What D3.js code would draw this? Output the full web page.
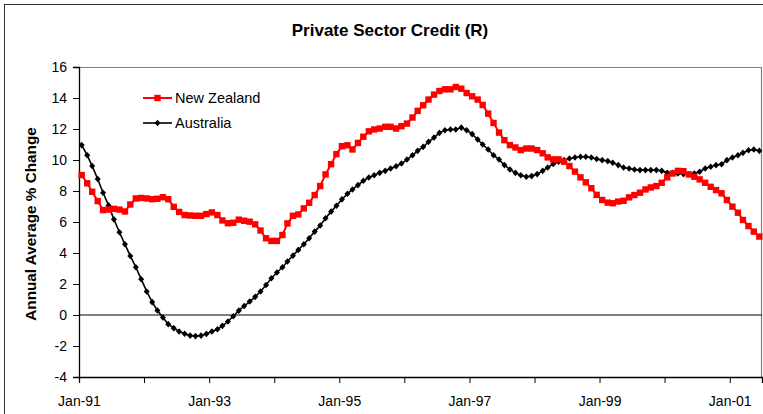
<!DOCTYPE html>
<html>
<head>
<meta charset="utf-8">
<script src="https://d3js.org/d3.v7.min.js"></script>
<style>
  body { margin: 0; background: #fff; }
  svg { display: block; font-family: "Liberation Sans", Arial, sans-serif; }
</style>
</head>
<body>
<script>
// Monthly series, Jan-91 .. Jun-01
const startYear = 1991;
const nzValues = [
  9.03, 8.5, 7.95, 7.35, 6.77, 6.8, 6.85, 6.8, 6.68, 7.13,
  7.52, 7.55, 7.52, 7.47, 7.5, 7.6, 7.47, 6.98, 6.65, 6.45,
  6.42, 6.4, 6.4, 6.51, 6.62, 6.45, 6.1, 5.92, 5.95, 6.15,
  6.08, 6.02, 5.85, 5.45, 4.95, 4.78, 4.78, 5.16, 5.91, 6.4,
  6.49, 6.88, 7.24, 7.74, 8.32, 9.07, 9.73, 10.38, 10.89, 10.95,
  10.68, 11.1, 11.5, 11.85, 11.97, 12.03, 12.14, 12.14, 12.03, 12.18,
  12.35, 12.74, 13.17, 13.53, 13.9, 14.22, 14.45, 14.56, 14.56, 14.71,
  14.6, 14.32, 14.11, 13.9, 13.55, 12.99, 12.39, 11.77, 11.28, 10.96,
  10.81, 10.64, 10.74, 10.74, 10.64, 10.43, 10.17, 10.04, 10.04, 9.89,
  9.61, 9.25, 8.88, 8.56, 8.18, 7.75, 7.42, 7.25, 7.21, 7.32,
  7.37, 7.59, 7.74, 7.89, 8.1, 8.23, 8.32, 8.53, 8.88, 9.13,
  9.3, 9.28, 9.07, 8.92, 8.75, 8.53, 8.27, 8.06, 7.85, 7.42,
  6.99, 6.6, 6.13, 5.74, 5.38, 5.06
];
const ausValues = [
  10.96, 10.31, 9.61, 8.77, 7.89, 7.07, 6.17, 5.34, 4.56, 3.81,
  3.08, 2.31, 1.52, 0.83, 0.29, -0.16, -0.59, -0.85, -1.06, -1.21,
  -1.33, -1.36, -1.33, -1.22, -1.06, -0.92, -0.7, -0.42, -0.08, 0.28,
  0.58, 0.87, 1.17, 1.52, 1.94, 2.37, 2.74, 3.08, 3.45, 3.83,
  4.2, 4.56, 4.95, 5.38, 5.77, 6.24, 6.67, 7.05, 7.46, 7.82,
  8.1, 8.38, 8.66, 8.87, 9.02, 9.17, 9.3, 9.45, 9.6, 9.77,
  10.03, 10.31, 10.59, 10.85, 11.17, 11.45, 11.75, 11.92, 11.97, 11.97,
  12.09, 11.92, 11.67, 11.32, 11.0, 10.68, 10.31, 10.03, 9.67, 9.39,
  9.17, 9.02, 8.92, 8.96, 9.09, 9.3, 9.52, 9.74, 9.89, 9.99,
  10.1, 10.16, 10.21, 10.21, 10.16, 10.06, 9.99, 9.93, 9.82, 9.67,
  9.52, 9.45, 9.39, 9.35, 9.35, 9.35, 9.35, 9.3, 9.17, 9.17,
  9.13, 9.09, 9.09, 9.13, 9.24, 9.45, 9.56, 9.67, 9.73, 9.99,
  10.16, 10.31, 10.46, 10.63, 10.68, 10.59
];
const yTicks = [-4, -2, 0, 2, 4, 6, 8, 10, 12, 14, 16];
const seriesNames = ["New Zealand", "Australia"];

const W = 763, H = 414;
const plot = { left: 79, right: 762, top: 67, bottom: 377 };

const svg = d3.select("body").append("svg")
  .attr("width", W)
  .attr("height", H);

// outer chart frame
svg.append("rect")
  .attr("x", 4.5).attr("y", 4.5)
  .attr("width", W + 10).attr("height", H + 10)
  .attr("fill", "#fff")
  .attr("stroke", "#333")
  .attr("stroke-width", 1);

// scales
const x = d3.scaleTime()
  .domain([new Date(startYear, 0, 1), new Date(2001, 6, 1)])
  .range([plot.left, plot.right]);

const y = d3.scaleLinear()
  .domain([-4, 16])
  .range([plot.bottom, plot.top]);

const monthMid = i => new Date(startYear, i, 16);

// plot area border (top/right grey)
svg.append("path")
  .attr("d", `M${plot.left},${plot.top + 0.5}H${plot.right - 0.5}V${plot.bottom}`)
  .attr("fill", "none")
  .attr("stroke", "#808080")
  .attr("stroke-width", 1.2);

// zero line
svg.append("line")
  .attr("x1", plot.left).attr("x2", plot.right)
  .attr("y1", y(0)).attr("y2", y(0))
  .attr("stroke", "#000")
  .attr("stroke-width", 1);

// axes
const fmt = d3.timeFormat("Jan-%y");
const xAxis = d3.axisBottom(x)
  .tickValues(d3.timeYear.range(new Date(startYear, 0, 1), new Date(2001, 6, 1)))
  .tickSize(6)
  .tickPadding(13)
  .tickFormat(d => d.getFullYear() % 2 === 1 ? fmt(d) : "");

const gx = svg.append("g")
  .attr("transform", `translate(0,${plot.bottom})`)
  .call(xAxis);
gx.select(".domain").attr("stroke", "#000").attr("stroke-width", 1.3);
gx.selectAll("text").attr("font-size", 14).attr("font-family", "Liberation Sans, Arial, sans-serif").attr("fill", "#000");

const yAxis = d3.axisLeft(y)
  .tickValues(yTicks)
  .tickSize(6)
  .tickPadding(6)
  .tickFormat(d => String(d));

const gy = svg.append("g")
  .attr("transform", `translate(${plot.left},0)`)
  .call(yAxis);
gy.select(".domain").attr("stroke", "#000").attr("stroke-width", 1.3);
gy.selectAll("text").attr("font-size", 14).attr("font-family", "Liberation Sans, Arial, sans-serif").attr("fill", "#000");

// title
svg.append("text")
  .attr("x", 390)
  .attr("y", 36)
  .attr("text-anchor", "middle")
  .attr("font-size", 17)
  .attr("font-weight", "bold")
  .text("Private Sector Credit (R)");

// y label
svg.append("text")
  .attr("transform", `translate(36,${(plot.top + plot.bottom) / 2 + 2}) rotate(-90)`)
  .attr("text-anchor", "middle")
  .attr("font-size", 15.3)
  .attr("font-weight", "bold")
  .text("Annual Average % Change");

// lines
const line = d3.line()
  .x((d, i) => x(monthMid(i)))
  .y(d => y(d));

svg.append("path")
  .datum(ausValues)
  .attr("fill", "none")
  .attr("stroke", "#000")
  .attr("stroke-width", 1.6)
  .attr("d", line);

svg.append("path")
  .datum(nzValues)
  .attr("fill", "none")
  .attr("stroke", "#ff0000")
  .attr("stroke-width", 2)
  .attr("d", line);

const diamond = "M0,-3.3L3,0L0,3.3L-3,0Z";
const sq = 6.4;

svg.append("g").selectAll("path")
  .data(ausValues)
  .join("path")
  .attr("d", diamond)
  .attr("transform", (d, i) => `translate(${x(monthMid(i))},${y(d)})`)
  .attr("fill", "#000");

svg.append("g").selectAll("rect")
  .data(nzValues)
  .join("rect")
  .attr("x", (d, i) => x(monthMid(i)) - sq / 2)
  .attr("y", d => y(d) - sq / 2)
  .attr("width", sq)
  .attr("height", sq)
  .attr("fill", "#ff0000");

// legend
const legend = svg.append("g");
const legY = [98, 123];
seriesNames.forEach((name, i) => {
  const g = legend.append("g").attr("transform", `translate(0,${legY[i]})`);
  g.append("line")
    .attr("x1", 143).attr("x2", 172)
    .attr("stroke", i === 0 ? "#ff0000" : "#000")
    .attr("stroke-width", i === 0 ? 2 : 1.6);
  if (i === 0) {
    g.append("rect")
      .attr("x", 157.5 - sq / 2).attr("y", -sq / 2)
      .attr("width", sq).attr("height", sq)
      .attr("fill", "#ff0000");
  } else {
    g.append("path")
      .attr("d", diamond)
      .attr("transform", "translate(157.5,0)")
      .attr("fill", "#000");
  }
  g.append("text")
    .attr("x", 175)
    .attr("y", 5)
    .attr("font-size", 14.5)
    .text(name);
});
</script>
</body>
</html>
